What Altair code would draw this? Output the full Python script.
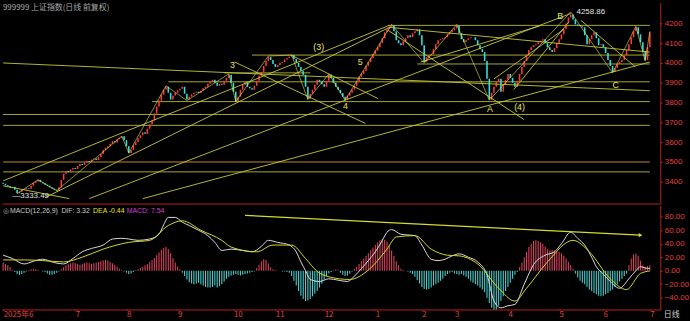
import altair as alt
import pandas as pd

# ---------------- data ----------------
title_text = "999999 上证指数(日线 前复权)"
first_open = 3395
closes = [
    3390, 3382, 3378, 3370, 3375, 3360, 3342, 3350, 3358, 3362, 3368,
    3365, 3380, 3395, 3402, 3410, 3398, 3392, 3385, 3380, 3372, 3366, 3360, 3355,
    3372, 3410, 3440, 3455, 3448, 3462, 3470, 3465, 3480, 3490, 3485, 3498, 3505, 3500, 3512, 3518, 3510,
    3525, 3540, 3560, 3572, 3580, 3592, 3605, 3598, 3615, 3622, 3630, 3610, 3580,
    3545, 3560, 3585, 3600, 3620, 3635, 3650, 3642, 3668, 3690, 3710, 3745, 3780, 3810,
    3840, 3865, 3880, 3850, 3815, 3835, 3850, 3862, 3870, 3880, 3845, 3815,
    3830, 3842, 3850, 3855, 3848, 3860, 3872, 3880, 3895, 3905, 3915, 3900, 3885, 3895, 3890, 3910, 3925, 3940, 3900, 3855,
    3805, 3830, 3865, 3890, 3905, 3880, 3872, 3865, 3885, 3910, 3935, 3955, 3985, 4010,
    4030, 4015, 3995, 3980, 3990, 4000, 4005, 4018, 4025, 4032, 4040, 4020, 4000, 3980, 3960, 3940, 3880,
    3820, 3845, 3865, 3890, 3915, 3905, 3892, 3880, 3910, 3940, 3925, 3900, 3880, 3865, 3848, 3830, 3815,
    3835, 3850, 3865, 3885, 3905, 3930, 3945, 3960, 3985, 4005, 4025, 4045, 4062, 4080, 4100, 4125, 4155, 4170, 4182, 4190,
    4160, 4115, 4100, 4090, 4110, 4125, 4140, 4130, 4150, 4160, 4170, 4140, 4090,
    4005, 4030, 4040, 4045, 4070, 4095, 4115, 4120, 4125, 4130, 4145, 4155, 4165, 4175, 4190,
    4150, 4120, 4105, 4115, 4125, 4130, 4130, 4115, 4090, 4070, 4055, 4010, 3920, 3815,
    3850, 3880, 3905, 3920, 3855, 3890, 3915, 3945, 3925, 3900, 3880, 3910, 3945, 3980, 4010, 4040,
    4065, 4080, 4090, 4095, 4105, 4112, 4120, 4100, 4080, 4065, 4055, 4075, 4100, 4120, 4145,
    4170, 4200, 4230, 4245, 4220, 4195, 4190, 4185, 4180, 4140, 4095, 4120, 4140, 4155, 4125, 4090, 4095, 4080, 4050, 4015, 3985, 3955,
    3975, 3995, 4005, 4015, 4040, 4065, 4095, 4130, 4160, 4180, 4145, 4105, 4060, 4015, 4080, 4155,
]

macd_hist = [
    12, 10, 8, 5,
    1, -2, -5, -6, -5, -3, -1,
    1, 2, 3, 2, 1, 0, -1, -2,
    -4, -6, -6, -5, -3, -1,
    2, 5, 8, 10, 11, 12, 11, 10, 9, 10, 11, 12, 11, 10, 11, 12, 13, 14, 15, 16, 15, 13, 11, 9, 6,
    3, 1, -1, -3, -5, -4, -2,
    1, 2, 4, 6, 8, 10, 13, 16, 19, 23, 27, 31, 34, 35, 32, 26, 19, 12, 6, 2,
    -3, -8, -13, -17, -19, -20, -19, -18, -20, -22, -24, -25, -25, -24, -22, -25, -23, -20, -16, -12, -9,
    -7, -6, -5, -6, -7, -6, -5, -4, -3, -2, -1,
    4, 9, 14, 17, 16, 11, 5,
    2, 1, 0, 0, -1, -1, -2, -3,
    -8, -15, -22, -30, -37, -42, -45, -44, -42, -38, -34, -30, -25, -19, -13, -8, -4,
    -2, 1, 2, 1, -3, -6, -8, -7, -4, -1,
    3, 6, 10, 14, 18, 22, 26, 30, 34, 38, 42, 45, 47, 46, 43, 38, 30, 22, 14, 8, 3,
    1, 0, -1, -3, -5,
    -9, -14, -19, -24, -27, -28, -27, -25, -22, -20, -18, -15, -12, -8, -5,
    -3, -2, -4, -5, -6, -5, -7, -9, -12,
    -15, -18, -20, -22, -25, -28, -32, -40, -48, -55, -60, -58, -52, -45, -38, -30, -24, -18, -12, -6, -2,
    5, 12, 20, 28, 35, 40, 44, 45, 44, 42, 40, 36, 32, 30, 31, 30, 29, 28, 26, 22, 18, 13, 8, 3,
    -4, -10, -15, -18, -20, -24, -28, -30, -33, -35, -37, -38, -37, -35, -33, -30, -28, -24, -20, -16, -12, -8, -4,
    8, 18, 24, 25, 22, 15, 8, 6, 7, 8,
]

dif_day = [0, 4, 9, 13, 17, 22, 26, 30, 34, 38, 43, 47, 51, 54, 58, 63, 67, 69, 71, 74,
           77, 80, 84, 88, 91, 94, 98, 103, 107, 111, 114, 118, 123, 126, 128, 130, 132, 136, 140, 144,
           148, 151, 154, 157, 160, 163, 165, 167, 171, 174, 177, 180, 184, 187, 190, 193, 196, 200, 204, 208,
           211, 214, 217, 220, 224, 228, 233, 237, 240, 244, 247, 250, 253, 255, 258, 261, 265, 269, 272, 274,
           276, 278]
dif_val = [23, 18, 10, 14, 17, 12, 10, 18, 28, 33, 38, 47, 48, 47, 45, 47, 54, 68, 79, 79,
           72, 67, 60, 52, 42, 30, 32, 30, 28, 36, 45, 42, 38, 28, 13, 0, -13, -16, -12, -14,
           -16, -8, 3, 15, 28, 45, 57, 61, 54, 53, 52, 38, 17, 15, 17, 22, 25, 20, 13, -6,
           -45, -55, -52, -50, -20, 9, 23, 28, 40, 57, 48, 38, 20, 6, -5, -16, -26, -12, 0, 6,
           4, 3.32]
dea_day = [0, 9, 17, 26, 34, 43, 54, 63, 71, 77, 85, 94, 98, 109, 116, 124, 130, 135, 140, 149,
           157, 165, 169, 177, 184, 191, 196, 204, 213, 220, 225, 234, 245, 252, 261, 268, 274, 278]
dea_val = [16, 16, 15, 13, 20, 32, 42, 45, 67, 74, 60, 45, 35, 28, 38, 38, 18, -1, -9, -13,
           1, 32, 50, 52, 32, 23, 22, 10, -26, -45, -26, 13, 45, 28, -12, -28, -4, -0.44]
dif_last, dea_last, macd_last = 3.32, -0.44, 7.54

# horizontal support / resistance levels (price, first day, last day)
h_price = [4190, 4040, 3995, 3950, 3905, 3805, 3740, 3685, 3450]
h_from = [165.5, 107, 178, 95, 71, 64, 0, 0, 0]
h_to = [278, 278, 278, 132, 278, 278, 278, 278, 278]
orange_price = [3500]

# diagonal trend lines (day, price) -> (day, price)
t_day1 = [0, 0, 18, 37, 60, 0, 165.5, 211, 219.5, 166, 179.5, 248.4, 123.8, 99.5]
t_p1 = [4000, 3405, 3320, 3315, 3315, 3380, 4165, 3920, 3865, 4180, 4005, 4215, 4040, 4005]
t_day2 = [278, 166, 166, 244, 278, 28.4, 223.8, 241, 243, 278, 231.4, 271.8, 161.2, 155.7]
t_p2 = [3860, 4190, 4180, 4250, 4005, 3315, 3715, 4170, 4205, 4055, 4190, 3980, 3820, 3695]

# wave zig-zag pivots
zig_day = [6, 15, 23, 51, 54, 70, 79, 97, 100, 114, 124, 131, 140, 147, 167, 181, 195, 209,
           244, 262, 272, 276, 278]
zig_price = [3340, 3410, 3355, 3630, 3545, 3885, 3810, 3945, 3805, 4035, 4040, 3815, 3945, 3812,
             4195, 4000, 4195, 3812, 4258, 3950, 4185, 4010, 4160]

wave_text = ["3", "(3)", "5", "4", "A", "(4)", "B", "C"]
wave_day = [98.6, 135.7, 153.5, 147.2, 209.3, 222, 239.5, 263.3]
wave_price = [3990, 4080, 4005, 3785, 3765, 3780, 4235, 3890]

extreme_text = ["4258.86", "—3333.49"]
extreme_day = [246.5, 4]
extreme_price = [4256, 3328]

macd_trend_day = [104, 274]
macd_trend_val = [82, 52.7]

tick_days = [0, 31, 53, 75, 99, 117, 138, 160, 180, 194, 217, 239, 258, 278]
tick_labels = ["2025年6", "7", "8", "9", "10", "11", "12", "1", "2", "3", "4", "5", "6", "7"]
price_ticks = [3400, 3500, 3600, 3700, 3800, 3900, 4000, 4100, 4200]
macd_ticks = [-40, -20, 0, 20, 40, 60, 80]

# ---------------- tables ----------------
opens = [first_open] + closes[:-1]
candles = pd.DataFrame({"day": list(range(len(closes))), "open": opens, "close": closes})
hdf = pd.DataFrame({"day": h_from, "day2": h_to, "price": h_price})
odf = pd.DataFrame({"day": [0], "day2": [278], "price": orange_price})
tdf = pd.DataFrame({"day": t_day1, "day2": t_day2, "price": t_p1, "price2": t_p2})
zdf = pd.DataFrame({"day": zig_day, "price": zig_price, "o": list(range(len(zig_day)))})
wdf = pd.DataFrame({"day": wave_day, "price": wave_price, "t": wave_text})
edf = pd.DataFrame({"day": extreme_day, "price": extreme_price, "t": extreme_text})
hist_df = pd.DataFrame({"day": list(range(len(macd_hist))), "macd": macd_hist})
dif_df = pd.DataFrame({"day": dif_day, "v": dif_val})
dea_df = pd.DataFrame({"day": dea_day, "v": dea_val})
mt_df = pd.DataFrame({"day": macd_trend_day, "v": macd_trend_val})

# ---------------- styling ----------------
W = 665
RED_AX = "#b82020"
RED_LAB = "#e04040"
UP = "#ff3838"
DOWN = "#30e0e0"
LINE = "#c8c83c"
HLINE = "#a8a838"
NUM_FONT = "Liberation Sans"
CJK = "Noto Sans CJK SC"

xscale = alt.Scale(domain=[-0.5, 282.5], nice=False, zero=False)
top_xaxis = alt.Axis(labels=False, ticks=False, grid=False, title=None,
                     domainColor=RED_AX, domainWidth=1)
pscale = alt.Scale(domain=[3290, 4305], nice=False, zero=False)
paxis = alt.Axis(orient="right", values=price_ticks, grid=False, title=None, format="d",
                 labelColor=RED_LAB, labelFont=NUM_FONT, labelFontSize=8, labelPadding=2,
                 tickColor=RED_AX, tickSize=2, domainColor=RED_AX)


def PX(field="day"):
    return alt.X(f"{field}:Q", scale=xscale, axis=top_xaxis)


def PY(field="price"):
    return alt.Y(f"{field}:Q", scale=pscale, axis=paxis)


base_h = alt.Chart(hdf).mark_rule(color=HLINE, strokeWidth=1).encode(
    x=PX(), x2="day2:Q", y=PY())
orange_h = alt.Chart(odf).mark_rule(color="#c08a34", strokeWidth=1).encode(
    x=PX(), x2="day2:Q", y=PY())
trend = alt.Chart(tdf).mark_rule(color=LINE, strokeWidth=0.9).encode(
    x=PX(), x2="day2:Q", y=PY(), y2="price2:Q")
candle = alt.Chart(candles).mark_rule(strokeWidth=1.6).encode(
    x=PX(), y=PY("open"), y2="close:Q",
    color=alt.condition("datum.close >= datum.open", alt.value(UP), alt.value(DOWN)))
zig = alt.Chart(zdf).mark_line(color="#e8e850", strokeWidth=0.7, opacity=0.85).encode(
    x=PX(), y=PY(), order="o:Q")
waves = alt.Chart(wdf).mark_text(color="#e8e850", fontSize=9, font=NUM_FONT).encode(
    x=PX(), y=PY(), text="t:N")
extremes = alt.Chart(edf).mark_text(color="#e0e0e0", fontSize=8, font=NUM_FONT, align="left").encode(
    x=PX(), y=PY(), text="t:N")
title_df = pd.DataFrame({"t": [title_text]})
title_mark = alt.Chart(title_df).mark_text(color="#a8a8a8", fontSize=8, font=CJK, align="left",
                                           baseline="middle").encode(
    text="t:N", x=alt.value(1), y=alt.value(5))

price_panel = alt.layer(base_h, orange_h, candle, trend, zig, waves, extremes, title_mark).properties(
    width=W, height=203)

# ---- MACD panel ----
mscale = alt.Scale(domain=[-57.5, 96.6], nice=False, zero=False, clamp=True)
maxis = alt.Axis(orient="right", values=macd_ticks, grid=False, title=None, format=".2f",
                 labelColor=RED_LAB, labelFont=NUM_FONT, labelFontSize=8, labelPadding=2,
                 tickColor=RED_AX, tickSize=2, domainColor=RED_AX)
label_expr = "[" + ",".join("'" + s + "'" for s in tick_labels) + "][indexof([" + \
    ",".join(str(d) for d in tick_days) + "], datum.value)]"
bottom_xaxis = alt.Axis(values=tick_days, labelExpr=label_expr, grid=False,
                        labelColor=RED_LAB, labelFont=CJK, labelFontSize=8, labelAlign="left",
                        labelBaseline="top", labelPadding=0, labelFlush=False,
                        tickColor=RED_AX, tickSize=1, domainColor=RED_AX,
                        title="日线", titleColor="#d0d0d0", titleFont=CJK, titleFontSize=8,
                        titleFontWeight="normal", titleX=668, titleY=1, titleAlign="left",
                        titleBaseline="top")


def MX(field="day"):
    return alt.X(f"{field}:Q", scale=xscale, axis=bottom_xaxis)


def MY(field):
    return alt.Y(f"{field}:Q", scale=mscale, axis=maxis)


bars = alt.Chart(hist_df).mark_rule(strokeWidth=1.1).encode(
    x=MX(), y=MY("macd"), y2=alt.datum(0),
    color=alt.condition("datum.macd >= 0", alt.value("#d8405c"), alt.value("#48cccc")))
dif_line = alt.Chart(dif_df).mark_line(color="#dcdcdc", strokeWidth=1, interpolate="monotone").encode(
    x=MX(), y=MY("v"))
dea_line = alt.Chart(dea_df).mark_line(color="#d8d828", strokeWidth=1, interpolate="monotone").encode(
    x=MX(), y=MY("v"))
mtrend = alt.Chart(mt_df).mark_line(color="#d8d830", strokeWidth=1.2).encode(
    x=MX(), y=MY("v"))
arrow = alt.Chart(mt_df.tail(1)).mark_point(shape="triangle-right", filled=True, size=18,
                                             color="#d8d830", opacity=1).encode(x=MX(), y=MY("v"))

leg_text = ["◎", "MACD(12,26,9)", f"DIF: {dif_last:.2f}", f"DEA {dea_last:.2f}", f"MACD: {macd_last:.2f}"]
leg_x = [1, 8, 60, 92, 126]
leg_colors = ["#b0b0b0", "#c8c8c8", "#c8c8c8", "#e0e030", "#d040d8"]
legend_layers = []
for txt, lx, lc in zip(leg_text, leg_x, leg_colors):
    legend_layers.append(
        alt.Chart(pd.DataFrame({"t": [txt]})).mark_text(
            color=lc, fontSize=7, font=NUM_FONT, align="left", baseline="middle"
        ).encode(text="t:N", x=alt.value(lx), y=alt.value(6))
    )

macd_panel = alt.layer(bars, dif_line, dea_line, mtrend, arrow, *legend_layers).properties(
    width=W, height=105)

chart = alt.vconcat(price_panel, macd_panel, spacing=0).properties(
    padding=0, background="#000000"
).configure_view(stroke="transparent")

chart.save("out.html", embed_options={"renderer": "svg", "actions": False})
